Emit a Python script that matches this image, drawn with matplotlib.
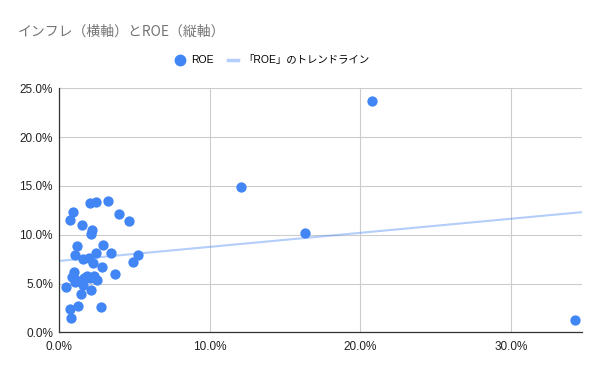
import numpy as np
import matplotlib.pyplot as plt
from matplotlib.ticker import FuncFormatter
from matplotlib.lines import Line2D

plt.rcParams['font.family'] = ['Liberation Sans', 'Noto Sans CJK JP']

# inflation (x) and ROE (y), in %
inflation = [2.04, 2.44, 3.22, 0.93, 0.71, 3.95, 4.61, 1.49, 2.17, 2.09,
             1.18, 2.89, 1.06, 2.42, 3.42, 5.21, 4.90, 1.60, 1.95, 2.24,
             2.84, 0.98, 3.68, 0.82, 1.11, 1.66, 2.04, 2.33, 2.49, 0.45,
             1.60, 2.11, 1.46, 1.26, 0.71, 2.75, 0.78, 1.82, 1.04,
             12.08, 16.3, 20.8, 34.24]
roe = [13.28, 13.38, 13.42, 12.36, 11.54, 12.15, 11.43, 10.99, 10.45, 10.04,
       8.81, 8.94, 7.95, 8.16, 8.16, 7.95, 7.23, 7.48, 7.64, 7.07,
       6.66, 6.18, 5.94, 5.70, 5.36, 5.59, 5.59, 5.74, 5.33, 4.67,
       4.82, 4.33, 3.95, 2.69, 2.39, 2.59, 1.47, 5.75, 5.18,
       14.9, 10.17, 23.73, 1.26]

title = "インフレ（横軸）とROE（縦軸）"
blue = "#4285F4"

x = np.array(inflation) / 100
y = np.array(roe) / 100

fig = plt.figure(figsize=(6, 3.71), dpi=100)
ax = fig.add_axes([0.0988, 0.1043, 0.8707, 0.6577])

xmax = 0.347
ax.set_xlim(0, xmax)
ax.set_ylim(0, 0.25)

# linear trendline fitted on the data
k, b = np.polyfit(x, y, 1)
xs = np.array([0, xmax])
ax.plot(xs, k * xs + b, color=blue, alpha=0.4, lw=1.5, zorder=2)

ax.scatter(x, y, s=55, color=blue, zorder=3, linewidths=0)

ax.set_xticks([0, 0.1, 0.2, 0.3])
ax.set_yticks([0, 0.05, 0.1, 0.15, 0.2, 0.25])
fmt = FuncFormatter(lambda v, p: f"{v * 100:.1f}%")
ax.xaxis.set_major_formatter(fmt)
ax.yaxis.set_major_formatter(fmt)
ax.tick_params(length=0, labelsize=8.5, colors="#222222")
ax.tick_params(axis="y", pad=4.5)
ax.tick_params(axis="x", pad=6)
ax.grid(True, color="#cccccc", lw=0.8)
ax.set_axisbelow(True)
for side in ["top", "right"]:
    ax.spines[side].set_visible(False)
for side in ["left", "bottom"]:
    ax.spines[side].set_color("#333333")
    ax.spines[side].set_linewidth(0.9)

fig.text(0.03, 0.915, title, fontsize=10, color="#757575", va="center",
         family=['Noto Sans CJK JP'])

handles = [
    Line2D([], [], marker="o", ls="none", color=blue, markersize=7.5),
    Line2D([], [], color=blue, alpha=0.4, lw=2.5),
]
fig.legend(handles, ["ROE", "「ROE」のトレンドライン"], loc="center left",
           bbox_to_anchor=(0.292, 0.837), ncol=2, frameon=False, fontsize=7.5,
           handlelength=1.0, columnspacing=1.4, handletextpad=0.5,
           borderaxespad=0, borderpad=0)

fig.savefig("out.png", dpi=100)
